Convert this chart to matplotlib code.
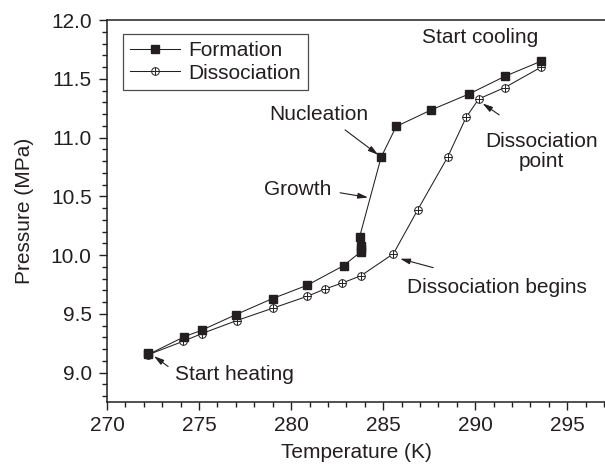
import matplotlib
matplotlib.use("Agg")
import matplotlib.pyplot as plt
from matplotlib.ticker import MultipleLocator
from matplotlib.legend_handler import HandlerTuple

plt.rcParams['font.family'] = ['Liberation Sans', 'DejaVu Sans']

# --- data ---
formation_T = [272.2, 272.25, 274.18, 275.16, 277.01, 278.99, 280.87, 282.85,
               283.8, 283.8, 283.8, 283.72, 284.89, 285.71, 287.61, 289.64,
               291.63, 293.57]
formation_P = [9.17, 9.155, 9.304, 9.362, 9.494, 9.630, 9.743, 9.910,
               10.03, 10.055, 10.08, 10.154, 10.833, 11.094, 11.235, 11.369,
               11.522, 11.649]

diss_T = [272.2, 274.15, 275.15, 277.05, 279.0, 280.87, 281.85, 282.79,
          283.8, 285.56, 286.88, 288.5, 289.51, 290.2, 291.6, 293.57]
diss_P = [9.15, 9.267, 9.332, 9.443, 9.548, 9.649, 9.712, 9.763,
          9.825, 10.012, 10.386, 10.833, 11.173, 11.329, 11.425, 11.598]

# (text, text position, arrow tail, arrow head)
notes = [
    ("Start heating", (273.7, 8.984), (273.32, 9.052), (272.55, 9.14)),
    ("Nucleation", (278.8, 11.193), (282.93, 11.065), (284.73, 10.853)),
    ("Growth", (278.53, 10.556), (282.66, 10.53), (284.18, 10.49)),
    ("Dissociation begins", (286.3, 9.723), (287.72, 9.893), (285.92, 9.969)),
    ("Start cooling", (287.1, 11.847), None, None),
]

ink = '#231f20'
fs = 15

fig = plt.figure(figsize=(6.05, 4.71), dpi=100)
ax = fig.add_axes([107 / 605, 1 - 402 / 471, 498 / 605, 382 / 471])

# dissociation: white circles with a plus inside
d_line, = ax.plot(diss_T, diss_P, '-', color=ink, lw=0.75, marker='o',
                  ms=5.5, mfc='white', mec=ink, mew=0.7, zorder=2)
d_plus, = ax.plot(diss_T, diss_P, ls='none', marker='+', ms=5.5,
                  mec=ink, mew=0.7, zorder=3)
f_line, = ax.plot(formation_T, formation_P, '-', color=ink, lw=0.75,
                  marker='s', ms=6, mfc=ink, mec=ink, zorder=4)

ax.set_xlim(270, 297.05)
ax.set_ylim(8.75, 12.0)
ax.xaxis.set_major_locator(MultipleLocator(5))
ax.xaxis.set_minor_locator(MultipleLocator(1))
ax.yaxis.set_major_locator(MultipleLocator(0.5))
ax.yaxis.set_minor_locator(MultipleLocator(0.1))
ax.yaxis.set_major_formatter(matplotlib.ticker.FormatStrFormatter('%.1f'))
ax.tick_params(which='both', direction='out', colors=ink, width=1.0,
               labelsize=fs, top=False, right=False)
ax.tick_params(which='major', length=6, pad=4)
ax.tick_params(which='minor', length=3.5)
ax.tick_params(axis='y', which='major', pad=5)
for s in ['left', 'bottom', 'top']:
    ax.spines[s].set_linewidth(1.1)
    ax.spines[s].set_color(ink)
ax.spines['right'].set_visible(False)

ax.set_xlabel("Temperature (K)", fontsize=fs, color=ink, labelpad=6)
ax.set_ylabel("Pressure (MPa)", fontsize=fs, color=ink, labelpad=12)

arrow = dict(arrowstyle='-|>,head_length=0.6,head_width=0.17', color=ink,
             lw=0.8, shrinkA=0, shrinkB=0)
for txt, pos, tail, head in notes:
    ax.text(pos[0], pos[1], txt, fontsize=fs, color=ink, ha='left', va='center')
    if tail is not None:
        ax.annotate('', xy=head, xytext=tail, arrowprops=arrow)

ax.text(293.59, 10.88, "Dissociation\npoint", fontsize=fs, color=ink,
        ha='center', va='center', multialignment='center', linespacing=1.1)
ax.annotate('', xy=(290.4, 11.29), xytext=(291.3, 11.193), arrowprops=arrow)

leg = ax.legend([f_line, (d_line, d_plus)], ["Formation", "Dissociation"],
                handler_map={tuple: HandlerTuple(ndivide=1)},
                loc='upper left', bbox_to_anchor=(0.032, 0.963),
                borderaxespad=0, fontsize=fs, frameon=True, fancybox=False,
                edgecolor=ink, handlelength=2.4, handletextpad=0.4,
                labelspacing=0.15, borderpad=0.35)
leg.get_frame().set_linewidth(0.9)
for t in leg.get_texts():
    t.set_color(ink)

fig.savefig("out.png", dpi=100)
